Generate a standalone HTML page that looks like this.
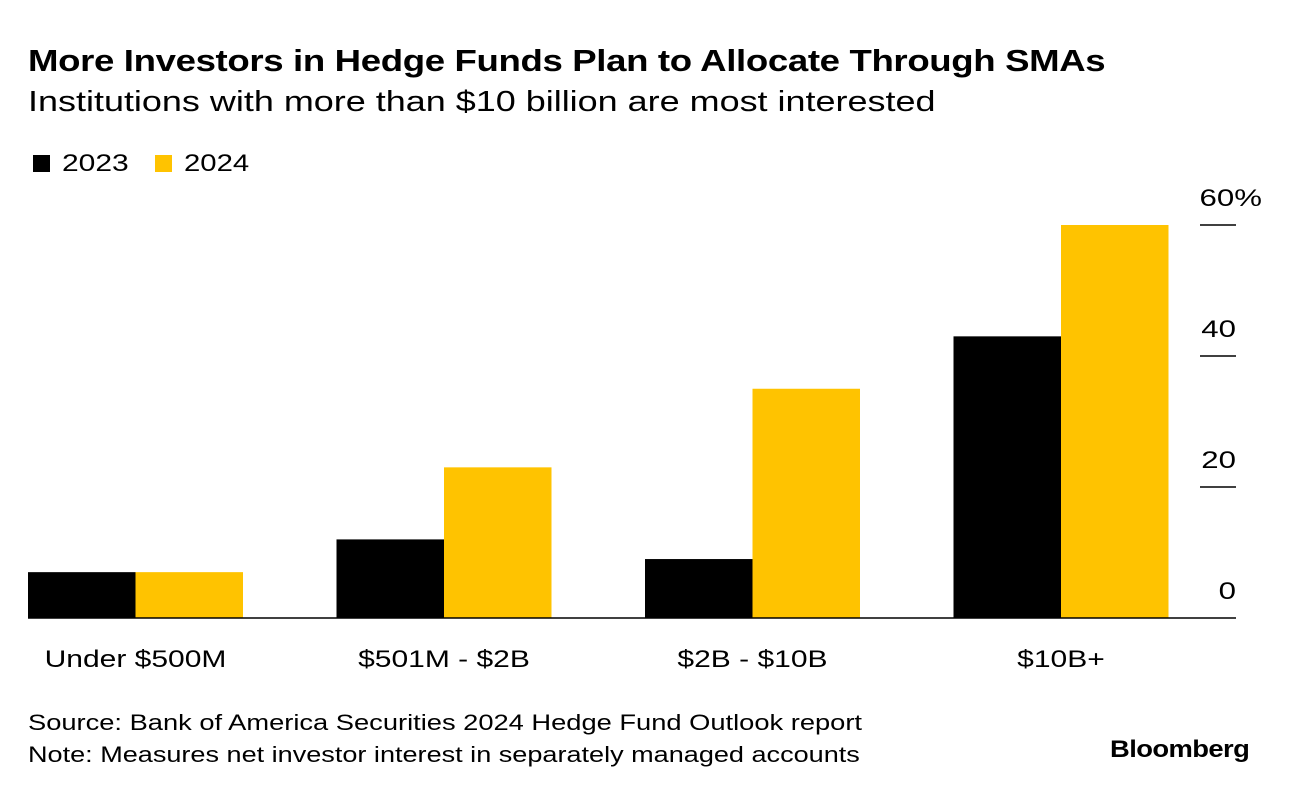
<!DOCTYPE html>
<html><head><meta charset="utf-8"><style>
body{margin:0;background:#fff;font-family:"Liberation Sans",Arial,sans-serif;color:#000}
#wrap{position:relative;width:1289px;height:794px;overflow:hidden}
.t{position:absolute;white-space:nowrap;transform-origin:0 0}
</style></head><body>
<div id="wrap">
<div class="t" style="left:28px;top:43px;font-size:31px;font-weight:bold;letter-spacing:-0.3px;transform:scaleX(1.18)">More Investors in Hedge Funds Plan to Allocate Through SMAs</div>
<div class="t" style="left:28px;top:86px;font-size:29px;transform:scaleX(1.24)">Institutions with more than $10 billion are most interested</div>
<div style="position:absolute;left:33px;top:155px;width:17px;height:17px;background:#000"></div>
<div class="t" style="left:62px;top:150px;font-size:24px;transform:scaleX(1.25)">2023</div>
<div style="position:absolute;left:155px;top:155px;width:17px;height:17px;background:#ffc300"></div>
<div class="t" style="left:184px;top:150px;font-size:24px;transform:scaleX(1.22)">2024</div>
<svg id="chart" width="1289" height="794" style="position:absolute;left:0;top:0"></svg>
<div class="t" style="left:28px;top:710px;font-size:22px;transform:scaleX(1.24)">Source: Bank of America Securities 2024 Hedge Fund Outlook report</div>
<div class="t" style="left:28px;top:742px;font-size:22px;transform:scaleX(1.23)">Note: Measures net investor interest in separately managed accounts</div>
<div class="t" style="left:1110px;top:736px;font-size:24px;font-weight:bold;letter-spacing:-0.5px;transform:scaleX(1.14)">Bloomberg</div>
</div>
<script>
const categories=["Under $500M","$501M - $2B","$2B - $10B","$10B+"];
const values2023=[7,12,9,43];
const values2024=[7,23,35,60];
const yTicks=[0,20,40,60];
const yTickLabels=["0","20","40","60%"];
const svg=document.getElementById('chart');
const NS='http://www.w3.org/2000/svg';
const baseY=618,topY=225,yMax=60;
function y(v){return baseY-(v/yMax)*(baseY-topY);}
const x0=28,groupW=308.5,barW=107.5;
function gx(i){return x0+i*groupW;}
function mk(tag,attrs){const e=document.createElementNS(NS,tag);for(const k in attrs)e.setAttribute(k,attrs[k]);svg.appendChild(e);return e;}
const F='Liberation Sans, Arial, sans-serif';
categories.forEach((c,i)=>{
  const b1=mk('rect',{x:gx(i),y:y(values2023[i]),width:barW,height:baseY-y(values2023[i]),fill:'#000'});
  
  
  const b2=mk('rect',{x:gx(i)+barW,y:y(values2024[i]),width:barW,height:baseY-y(values2024[i]),fill:'#ffc300'});
  
  
  const t=mk('text',{x:gx(i)+barW,y:667,'text-anchor':'middle','font-size':24,'font-family':F});
  t.textContent=c;
  const w=t.getComputedTextLength();
  t.setAttribute('textLength',w*1.25);
  t.setAttribute('lengthAdjust','spacingAndGlyphs');
  
  
});
yTicks.forEach((v,i)=>{
  if(v>0){const l=mk('line',{x1:1200,x2:1236,y1:y(v),y2:y(v),stroke:'#000','stroke-width':1.5});
  
  }
  const t=mk('text',{x:v===60?1262:1236,y:y(v)-19,'text-anchor':'end','font-size':24,'font-family':F});
  t.textContent=yTickLabels[i];
  const w=t.getComputedTextLength();
  t.setAttribute('textLength',w*1.3);
  t.setAttribute('lengthAdjust','spacingAndGlyphs');
  
  
});
const ax=mk('line',{x1:28,x2:1236,y1:baseY,y2:baseY,stroke:'#000','stroke-width':1.5});


</script>
</body></html>
